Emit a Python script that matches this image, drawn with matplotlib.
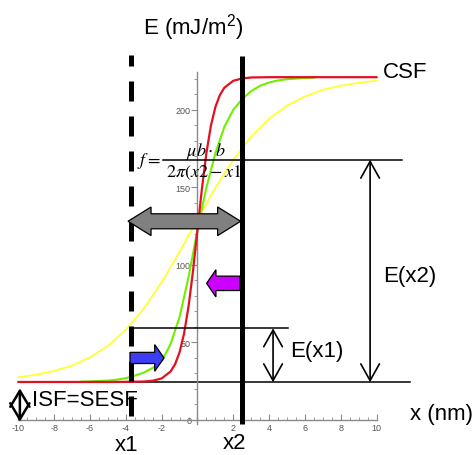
import matplotlib
matplotlib.use("Agg")
import matplotlib.pyplot as plt
import matplotlib.transforms as mtransforms
from matplotlib.patches import Polygon
from matplotlib.ticker import FixedLocator

plt.rcParams['font.family'] = ['Liberation Sans', 'DejaVu Sans']
plt.rcParams['mathtext.fontset'] = 'custom'
plt.rcParams['mathtext.rm'] = 'Liberation Sans'
plt.rcParams['mathtext.it'] = 'Liberation Sans:italic'

# energy curves (x in nm, E in mJ/m^2)
red_x = [-10, -5, -4, -3, -2.5, -2, -1.5, -1.25, -1, -0.75, -0.5, -0.25, 0,
         0.25, 0.5, 0.75, 1, 1.25, 1.5, 2, 2.5, 3, 4, 5, 10]
red_e = [24.5, 24.5, 24.6, 24.8, 25.3, 26.8, 31.3, 36.0, 43.7, 55.7, 73.2, 96.1, 122.8,
         149.4, 172.3, 189.8, 201.8, 209.5, 214.2, 218.7, 220.2, 220.8, 221.0, 221.0, 221.0]

green_x = [-6.5, -6, -5, -4.5, -4, -3.5, -3, -2.5, -2, -1.5, -1, -0.5, 0,
           0.5, 1, 1.5, 2, 2.5, 3, 3.5, 4, 4.5, 5, 6, 6.5]
green_e = [24.7, 24.9, 25.4, 26.0, 27.0, 28.6, 30.6, 33.6, 38.0, 49.0, 66.5, 92.0, 122.8,
           150.0, 172.0, 189.0, 200.0, 207.0, 212.0, 215.5, 217.6, 218.9, 219.7, 220.5, 220.7]

yellow_x = [-10, -9, -8, -7, -6, -5, -4, -3, -2, -1, 0,
            1, 2, 3, 4, 5, 6, 7, 8, 9, 10]
yellow_e = [27.5, 29.2, 31.6, 35.1, 40.4, 47.8, 58.2, 71.8, 88.8, 108.5, 129.4,
            149.7, 167.8, 182.7, 194.2, 202.7, 208.6, 212.8, 215.5, 217.4, 218.7]

x_ticks = [-10, -8, -6, -4, -2, 0, 2, 4, 6, 8, 10]
e_ticks = [50, 100, 150, 200]

# dislocation positions and energy levels marked on the sketch
x1_pos = -3.73
x2_pos = 2.46
e_isf = 24.3
e_x1 = 59.1
e_x2 = 167.8


def block_arrow(ax, x_tail, x_tip, y, body, head, head_len, color, double=False):
    d = 1 if x_tip > x_tail else -1
    hx = x_tip - d * head_len
    if double:
        tx = x_tail + d * head_len
        pts = [(x_tail, y), (tx, y + head), (tx, y + body), (hx, y + body), (hx, y + head),
               (x_tip, y), (hx, y - head), (hx, y - body), (tx, y - body), (tx, y - head)]
    else:
        pts = [(x_tail, y + body), (hx, y + body), (hx, y + head), (x_tip, y),
               (hx, y - head), (hx, y - body), (x_tail, y - body)]
    ax.add_patch(Polygon(pts, closed=True, facecolor=color, edgecolor='black',
                         linewidth=0.9, zorder=8))


def dbl_arrow(ax, x, e_top, e_bot, hl=12, hw=6.7, lw=1.2):
    ax.annotate('', xy=(x, e_top), xytext=(x, e_bot),
                arrowprops=dict(arrowstyle=f'<->,head_length={hl},head_width={hw}',
                                mutation_scale=1, lw=lw, color='black',
                                shrinkA=0, shrinkB=0), zorder=7)


fig = plt.figure(figsize=(4.77, 4.56), dpi=100)
ax = fig.add_axes([0, 0, 1, 1])
ax.set_xlim(-11.03, 15.61)
ax.set_ylim(-22.57, 271.4)

# axes through the origin, Maple style
for side in ['top', 'right']:
    ax.spines[side].set_visible(False)
ax.spines['left'].set_position(('data', 0))
ax.spines['bottom'].set_position(('data', 0))
ax.spines['left'].set_bounds(-2.5, 224.5)
ax.spines['bottom'].set_bounds(-10, 10)
for side in ['left', 'bottom']:
    ax.spines[side].set_color('#8a8a8a')
    ax.spines[side].set_linewidth(1.0)

ax.set_xticks(x_ticks)
ax.set_xticklabels([str(t) for t in x_ticks])
ax.xaxis.set_minor_locator(FixedLocator([v / 2 for v in range(-20, 21)]))
ax.set_yticks(e_ticks)
ax.set_yticklabels([str(t) for t in e_ticks])
ax.yaxis.set_minor_locator(FixedLocator(list(range(10, 230, 10))))
ax.tick_params(axis='x', which='major', direction='in', length=4, width=0.8,
               color='#8a8a8a', labelsize=6.5, labelcolor='#555555', pad=2)
ax.tick_params(axis='x', which='minor', direction='in', length=2, width=0.6, color='#8a8a8a')
ax.tick_params(axis='y', which='major', direction='out', length=4, width=0.8,
               color='#8a8a8a', labelsize=6.5, labelcolor='#555555', pad=1)
ax.tick_params(axis='y', which='minor', direction='out', length=2, width=0.6, color='#8a8a8a')

zero_lbl = ax.xaxis.get_major_ticks()[x_ticks.index(0)].label1
zero_lbl.set_transform(zero_lbl.get_transform() +
                       mtransforms.ScaledTranslation(-6 / 72, 5 / 72, fig.dpi_scale_trans))

ax.plot(yellow_x, yellow_e, color='#ffff33', lw=1.3, zorder=2)
ax.plot(green_x, green_e, color='#6ff000', lw=1.5, zorder=3)
ax.plot(red_x, red_e, color='#e3101f', lw=1.6, zorder=4)

# horizontal energy levels
ax.plot([-1.93, 11.42], [e_x2, e_x2], color='black', lw=1.1, zorder=5)
ax.plot([x1_pos, 5.06], [e_x1, e_x1], color='black', lw=1.1, zorder=5)
ax.plot([-4.33, 11.87], [e_isf, e_isf], color='black', lw=1.1, zorder=1)

# partial dislocation positions
ax.plot([x1_pos, x1_pos], [235.3, -0.6], color='black', lw=3.6,
        linestyle=(1.8, (4, 3)), zorder=6)
ax.plot([x2_pos, x2_pos], [234.7, -2.6], color='black', lw=3.6,
        solid_capstyle='butt', zorder=6)

dbl_arrow(ax, 9.64, e_x2, e_isf)
dbl_arrow(ax, 4.22, e_x1, e_isf)
dbl_arrow(ax, -9.92, 20.4, -1.1, hl=11.5, hw=6.9, lw=1.8)

block_arrow(ax, -3.88, 2.41, 128.1, 4.84, 9.22, 1.285, '#808080', double=True)
block_arrow(ax, 2.37, 0.51, 88.1, 4.64, 8.77, 0.52, '#cc00ff')
block_arrow(ax, -3.77, -1.87, 40.0, 3.6, 8.6, 0.52, '#3d3df5')

# force between the two partials
ax.text(-2.71, 167.6, r'$f=$', math_fontfamily='stix', fontsize=13,
        ha='center', va='center', zorder=9)
ax.text(0.45, 174.0, r'$\mu b\cdot b$', math_fontfamily='stix', fontsize=13,
        ha='center', va='center', zorder=9)
ax.text(0.36, 160.2, r'$2\pi(x2-x1$', math_fontfamily='stix', fontsize=13,
        ha='center', va='center', zorder=9)

ax.text(-0.25, 253.4, 'E (mJ/m$^2$)', fontsize=16, ha='center', va='center')
ax.text(10.36, 224.4, 'CSF', fontsize=16, ha='left', va='center')
ax.text(10.36, 93.0, 'E(x2)', fontsize=16, ha='left', va='center')
ax.text(5.17, 44.7, 'E(x1)', fontsize=16, ha='left', va='center')
ax.text(-9.25, 13.2, 'ISF=SESF', fontsize=16, ha='left', va='center', zorder=9)
ax.text(13.6, 3.9, 'x (nm)', fontsize=16, ha='center', va='center')
ax.text(-3.94, -16.1, 'x1', fontsize=16, ha='center', va='center')
ax.text(2.04, -14.5, 'x2', fontsize=16, ha='center', va='center')

fig.savefig('out.png', dpi=100)
